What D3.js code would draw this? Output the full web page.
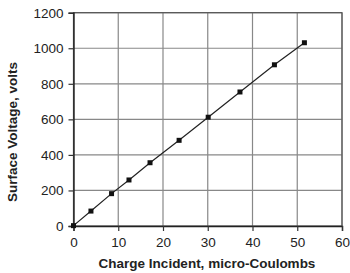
<!DOCTYPE html>
<html><head><meta charset="utf-8">
<script src="https://cdn.jsdelivr.net/npm/d3@7"></script>
<style>body{margin:0;background:#fff}svg{display:block}</style>
</head><body>
<script>
const charge = [0, 3.9, 8.5, 12.4, 17.1, 23.6, 30.1, 37.2, 44.9, 51.6];
const voltage = [2, 84, 182, 259, 356, 482, 612, 754, 907, 1031];
const xTicks = [0, 10, 20, 30, 40, 50, 60];
const yTicks = [0, 200, 400, 600, 800, 1000, 1200];
const xTitle = "Charge Incident, micro-Coulombs";
const yTitle = "Surface Voltage, volts";

const W = 350, H = 273;
const m = {l: 73.5, r: 8, t: 12.7, b: 47};
const svg = d3.select("body").append("svg").attr("width", W).attr("height", H);
const x = d3.scaleLinear().domain([0, 60]).range([m.l, W - m.r]);
const y = d3.scaleLinear().domain([0, 1200]).range([H - m.b, m.t]);
const font = "Liberation Sans, Arial, sans-serif";

// grid
svg.append("g").selectAll("line").data(xTicks.slice(1)).join("line")
  .attr("x1", d => x(d)).attr("x2", d => x(d)).attr("y1", y(0)).attr("y2", y(1200))
  .attr("stroke", "#888").attr("stroke-width", 1.2);
svg.append("g").selectAll("line").data(yTicks.slice(1)).join("line")
  .attr("x1", x(0)).attr("x2", x(60)).attr("y1", d => y(d)).attr("y2", d => y(d))
  .attr("stroke", "#888").attr("stroke-width", 1.2);
// border
svg.append("rect").attr("x", x(0)).attr("y", y(1200)).attr("width", x(60) - x(0)).attr("height", y(0) - y(1200))
  .attr("fill", "none").attr("stroke", "#555").attr("stroke-width", 1.2);

const xa = svg.append("g").attr("transform", `translate(0,${y(0)})`)
  .call(d3.axisBottom(x).tickValues(xTicks).tickSize(5).tickPadding(6).tickFormat(d3.format("d")));
const ya = svg.append("g").attr("transform", `translate(${x(0)},0)`)
  .call(d3.axisLeft(y).tickValues(yTicks).tickSize(5).tickPadding(5).tickFormat(d3.format("d")));
[xa, ya].forEach(a => {
  a.select(".domain").attr("stroke", "#222").attr("stroke-width", 1.4);
  a.selectAll(".tick line").attr("stroke", "#333").attr("stroke-width", 1.2);
  a.selectAll("text").attr("font-family", font).attr("font-size", 13.5).attr("fill", "#222");
});

// line + points
svg.append("path").datum(charge.map((c, i) => [c, voltage[i]]))
  .attr("d", d3.line().x(d => x(d[0])).y(d => y(d[1])))
  .attr("fill", "none").attr("stroke", "#222").attr("stroke-width", 1.2);
svg.append("g").selectAll("rect").data(charge.map((c, i) => [c, voltage[i]])).join("rect")
  .attr("x", d => x(d[0]) - 2.5).attr("y", d => y(d[1]) - 2.5).attr("width", 5).attr("height", 5)
  .attr("fill", "#111");

svg.append("text").attr("x", 207).attr("y", 268)
  .attr("text-anchor", "middle").attr("font-family", font).attr("font-weight", "bold")
  .attr("font-size", 13.5).attr("fill", "#222").text(xTitle);
svg.append("text").attr("transform", `translate(17,${132}) rotate(-90)`)
  .attr("text-anchor", "middle").attr("font-family", font).attr("font-weight", "bold")
  .attr("font-size", 13.5).attr("fill", "#222").text(yTitle);
</script>
</body></html>
